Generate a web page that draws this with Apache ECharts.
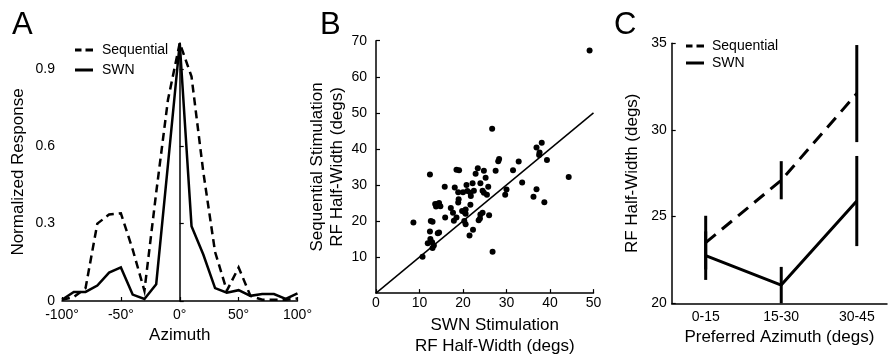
<!DOCTYPE html>
<html><head><meta charset="utf-8">
<script src="https://cdn.jsdelivr.net/npm/echarts@6/dist/echarts.min.js"></script>
<style>html,body{margin:0;padding:0;background:#fff}#c{width:893px;height:362px}</style>
</head><body><div id="c"></div>
<script>
// Panel A: tuning curves
const azimuth = [-100,-90,-80,-70,-60,-50,-40,-30,-20,-10,0,10,20,30,40,50,60,70,80,90,100];
const seqResp = [0.005,0.015,0.05,0.30,0.335,0.34,0.20,0.04,0.42,0.78,1.0,0.87,0.50,0.19,0.04,0.13,0.02,0.005,0.005,0.005,0.01];
const swnResp = [0.005,0.035,0.035,0.06,0.11,0.13,0.025,0.008,0.065,0.53,1.0,0.29,0.18,0.05,0.032,0.042,0.02,0.027,0.027,0.008,0.03];
const aYTicks = [0,0.3,0.6,0.9];

// Panel B: half-widths per cell (SWN x, Sequential y)
const swnHW = [49.1,26.7,38.1,36.9,37.6,37.5,28.1,28.3,32.8,39.3,12.4,18.5,19.1,23.4,24.8,22.9,27.5,31.5,25.2,44.3,25.8,15.8,18.1,20.8,22.2,24.0,33.6,30.0,29.7,18.9,20.0,21.0,21.7,22.5,24.5,24.8,25.5,21.8,19.0,18.9,36.9,36.2,38.7,13.6,14.1,14.5,14.8,13.8,17.2,21.7,17.7,19.8,20.3,20.6,20.6,24.5,24.0,26.0,15.9,18.5,17.9,23.9,23.6,20.3,20.6,8.6,12.6,13.0,22.3,12.4,14.5,14.2,21.5,11.9,12.5,12.9,13.3,13.0,10.7,26.8];
const seqHW = [67.3,45.6,41.7,40.4,39.0,38.3,36.6,37.2,36.5,36.9,32.9,34.2,34.1,34.6,33.9,33.1,33.9,34.1,32.0,32.2,29.5,29.5,29.3,30.0,30.5,30.5,30.7,28.7,27.3,28.0,28.0,28.3,27.8,28.4,28.4,27.8,27.3,26.9,26.0,25.1,28.8,26.7,25.2,24.7,24.7,25.0,24.1,24.0,23.6,24.5,22.3,22.8,22.5,23.2,22.0,22.3,21.8,21.6,21.0,21.0,20.1,20.7,20.2,20.0,19.1,19.6,20.0,19.8,17.6,17.1,16.8,16.6,16.0,13.8,15.0,14.1,13.2,12.5,10.1,11.5];
const unityLine = [0,50];

// Panel C: mean half-width by preferred azimuth
const azBins = ['0-15','15-30','30-45'];
const binPos = [1,2,3];
const seqMean = [23.5,27.1,32.1];
const seqErr = [1.55,1.1,2.8];
const swnMean = [22.75,21.05,25.9];
const swnErr = [1.4,1.05,2.6];

const FONT = 'Liberation Sans, Arial, sans-serif';
const axisLine = {show:true, lineStyle:{color:'#000', width:1.5}};
const tick = {show:true, inside:true, length:4, lineStyle:{color:'#000', width:1.2}};
const lbl = {color:'#000', fontSize:14, fontFamily:FONT};
const nameStyle = {color:'#000', fontSize:17, fontFamily:FONT};

// legend icons (18x14 box, corner anchors keep the box size)
const BOX = 'M0,0 L0.01,0 L0,0.01 Z M18,14 L17.99,14 L18,13.99 Z ';
const dashIcon = 'path://' + BOX + 'M0,5.6 H6.5 V8.4 H0 Z M10.5,5.6 H18 V8.4 H10.5 Z';
const solidIcon = 'path://' + BOX + 'M0,5.6 H18 V8.4 H0 Z';
const legendData = [{name:'Sequential', icon:dashIcon}, {name:'SWN', icon:solidIcon}];

const chart = echarts.init(document.getElementById('c'), null, {renderer:'canvas'});

function errRender(params, api){
  const x = api.value(0);
  const p1 = api.coord([x, api.value(1)]);
  const p2 = api.coord([x, api.value(2)]);
  return {type:'line', shape:{x1:p1[0],y1:p1[1],x2:p2[0],y2:p2[1]}, style:{stroke:'#000', lineWidth:3}};
}

const option = {
  animation:false,
  backgroundColor:'#fff',
  textStyle:{fontFamily:FONT},
  graphic:[
    {type:'text', left:12, top:10, style:{text:'A', fontSize:31, fontFamily:FONT, fill:'#000'}},
    {type:'text', left:320, top:10, style:{text:'B', fontSize:31, fontFamily:FONT, fill:'#000'}},
    {type:'text', left:614, top:10, style:{text:'C', fontSize:31, fontFamily:FONT, fill:'#000'}}
  ],
  legend:[
    {left:70, top:38, orient:'vertical', itemWidth:18, itemHeight:14, itemGap:6,
     data:legendData, itemStyle:{color:'#000'}, textStyle:{color:'#000', fontSize:14, fontFamily:FONT, padding:[0,0,0,4]}, selectedMode:false},
    {left:681, top:34, orient:'vertical', itemWidth:18, itemHeight:14, itemGap:3,
     data:legendData, itemStyle:{color:'#000'}, textStyle:{color:'#000', fontSize:14, fontFamily:FONT, padding:[0,0,0,3]}, selectedMode:false}
  ],
  grid:[
    {left:62, top:43, width:235.5, height:258},
    {left:376, top:40.7, width:217.5, height:264.3},
    {left:671.7, top:43.3, width:215.3, height:260}
  ],
  xAxis:[
    {gridIndex:0, type:'value', min:-100, max:100, interval:50, axisLine, axisTick:tick, splitLine:{show:false},
     axisLabel:Object.assign({margin:7, formatter:v=>v+'°'}, lbl),
     name:'Azimuth', nameLocation:'middle', nameGap:23, nameTextStyle:nameStyle},
    {gridIndex:1, type:'value', min:0, max:50, interval:10, axisLine, axisTick:tick, splitLine:{show:false},
     axisLabel:Object.assign({margin:3}, lbl),
     name:'SWN Stimulation\nRF Half-Width (degs)', nameLocation:'middle', nameGap:17,
     nameTextStyle:Object.assign({lineHeight:21, padding:[0,0,0,20], verticalAlign:'top'}, nameStyle)},
    {gridIndex:2, type:'value', min:0.55, max:3.4, axisLine, axisTick:{show:false}, splitLine:{show:false},
     axisLabel:Object.assign({margin:7, customValues:binPos, formatter:v=>azBins[binPos.indexOf(v)]}, lbl),
     name:'Preferred Azimuth (degs)', nameLocation:'middle', nameGap:18, nameTextStyle:nameStyle}
  ],
  yAxis:[
    {gridIndex:0, type:'value', min:0, max:1, axisLine, splitLine:{show:false},
     axisTick:Object.assign({customValues:aYTicks}, tick),
     axisLabel:Object.assign({margin:7, customValues:aYTicks}, lbl),
     name:'Normalized Response', nameLocation:'middle', nameGap:35, nameTextStyle:nameStyle},
    {gridIndex:1, type:'value', min:0, max:70, interval:10, axisLine, axisTick:tick, splitLine:{show:false},
     axisLabel:Object.assign({margin:9, showMinLabel:false}, lbl),
     name:'Sequential Stimulation\nRF Half-Width (degs)', nameLocation:'middle', nameGap:19,
     nameTextStyle:Object.assign({lineHeight:20}, nameStyle)},
    {gridIndex:2, type:'value', min:20, max:35, interval:5, axisLine, axisTick:tick, splitLine:{show:false},
     axisLabel:Object.assign({margin:5}, lbl),
     name:'RF Half-Width (degs)', nameLocation:'middle', nameGap:31, nameTextStyle:nameStyle}
  ],
  series:[
    {name:'Sequential', type:'line', xAxisIndex:0, yAxisIndex:0, symbol:'none', clip:false,
     data:azimuth.map((a,i)=>[a,seqResp[i]]), lineStyle:{color:'#000', width:2.5, type:[8,5], join:'miter'}, itemStyle:{color:'#000'}},
    {name:'SWN', type:'line', xAxisIndex:0, yAxisIndex:0, symbol:'none', clip:false,
     data:azimuth.map((a,i)=>[a,swnResp[i]]), lineStyle:{color:'#000', width:2.5, join:'miter'}, itemStyle:{color:'#000'}},
    {type:'line', xAxisIndex:1, yAxisIndex:1, symbol:'none', data:unityLine.map(v=>[v,v]),
     lineStyle:{color:'#000', width:1.5}},
    {type:'scatter', xAxisIndex:1, yAxisIndex:1, symbolSize:6, data:swnHW.map((x,i)=>[x,seqHW[i]]),
     itemStyle:{color:'#000', opacity:1}},
    {name:'Sequential', type:'line', xAxisIndex:2, yAxisIndex:2, symbol:'none',
     data:binPos.map((x,i)=>[x,seqMean[i]]), lineStyle:{color:'#000', width:3, type:[13,8]}, itemStyle:{color:'#000'}},
    {name:'SWN', type:'line', xAxisIndex:2, yAxisIndex:2, symbol:'none',
     data:binPos.map((x,i)=>[x,swnMean[i]]), lineStyle:{color:'#000', width:3}, itemStyle:{color:'#000'}},
    {type:'custom', xAxisIndex:2, yAxisIndex:2, renderItem:errRender, clip:false,
     data:binPos.map((x,i)=>[x,seqMean[i]-seqErr[i],seqMean[i]+seqErr[i]])},
    {type:'custom', xAxisIndex:2, yAxisIndex:2, renderItem:errRender, clip:false,
     data:binPos.map((x,i)=>[x,swnMean[i]-swnErr[i],swnMean[i]+swnErr[i]])}
  ]
};
chart.setOption(option);
</script></body></html>
